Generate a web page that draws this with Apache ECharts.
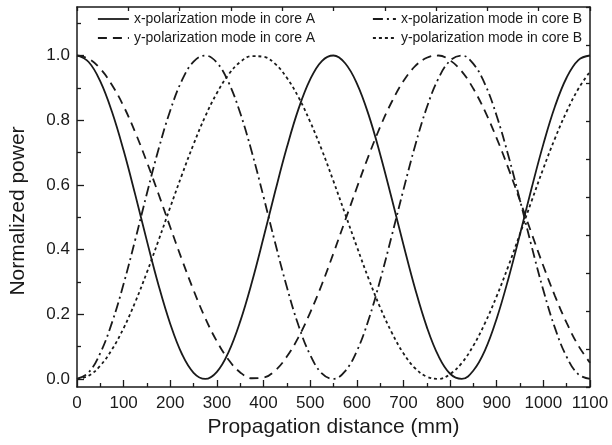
<!DOCTYPE html>
<html>
<head>
<meta charset="utf-8">
<script src="https://cdn.jsdelivr.net/npm/echarts@6/dist/echarts.min.js"></script>
<style>
  html, body { margin: 0; padding: 0; background: #fff; }
  #chart { width: 612px; height: 445px; }
</style>
</head>
<body>
<div id="chart"></div>
<script>
// Propagation distance samples (mm)
const distance = [0, 25, 50, 75, 100, 125, 150, 175, 200, 225, 250, 275, 300, 325, 350, 375, 400, 425, 450, 475, 500, 525, 550, 575, 600, 625, 650, 675, 700, 725, 750, 775, 800, 825, 850, 875, 900, 925, 950, 975, 1000, 1025, 1050, 1075, 1100];

// Normalized power of each mode along the coupler
const xPolCoreA = [1.000, 0.980, 0.920, 0.826, 0.706, 0.569, 0.426, 0.289, 0.170, 0.077, 0.019, 0.000, 0.022, 0.083, 0.178, 0.299, 0.437, 0.580, 0.716, 0.835, 0.926, 0.983, 1.000, 0.976, 0.914, 0.818, 0.695, 0.557, 0.415, 0.279, 0.161, 0.071, 0.016, 0.000, 0.026, 0.089, 0.187, 0.310, 0.448, 0.591, 0.726, 0.843, 0.932, 0.986, 1.000];
const yPolCoreA = [1.000, 0.990, 0.959, 0.909, 0.843, 0.762, 0.670, 0.571, 0.469, 0.369, 0.274, 0.188, 0.116, 0.059, 0.020, 0.002, 0.004, 0.026, 0.069, 0.129, 0.205, 0.292, 0.389, 0.490, 0.591, 0.689, 0.779, 0.857, 0.921, 0.967, 0.993, 1.000, 0.985, 0.951, 0.897, 0.827, 0.744, 0.651, 0.551, 0.449, 0.349, 0.256, 0.173, 0.103, 0.050];
const xPolCoreB = [0.000, 0.020, 0.080, 0.174, 0.294, 0.431, 0.574, 0.711, 0.830, 0.923, 0.981, 1.000, 0.978, 0.917, 0.822, 0.701, 0.563, 0.420, 0.284, 0.165, 0.074, 0.017, 0.000, 0.024, 0.086, 0.182, 0.305, 0.443, 0.585, 0.721, 0.839, 0.929, 0.984, 1.000, 0.974, 0.911, 0.813, 0.690, 0.552, 0.409, 0.274, 0.157, 0.068, 0.014, 0.000];
const yPolCoreB = [0.000, 0.010, 0.041, 0.091, 0.157, 0.238, 0.330, 0.429, 0.531, 0.631, 0.726, 0.812, 0.884, 0.941, 0.980, 0.998, 0.996, 0.974, 0.931, 0.871, 0.795, 0.708, 0.611, 0.510, 0.409, 0.311, 0.221, 0.143, 0.079, 0.033, 0.007, 0.000, 0.015, 0.049, 0.103, 0.173, 0.256, 0.349, 0.449, 0.551, 0.651, 0.744, 0.827, 0.897, 0.950];

const seriesNames = [
  'x-polarization mode in core A',
  'y-polarization mode in core A',
  'x-polarization mode in core B',
  'y-polarization mode in core B'
];

const yMajorTicks = [0.0, 0.2, 0.4, 0.6, 0.8, 1.0];
const yMinorTicks = [0.1, 0.3, 0.5, 0.7, 0.9, 1.1];

const FONT = '"Liberation Sans", Arial, Helvetica, sans-serif';
const INK = '#1a1a1a';
const CLEAR = 'rgba(0,0,0,0)';

function pairs(ys) {
  return distance.map((d, i) => [d, ys[i]]);
}

function lineSeries(name, ys, dash) {
  return {
    name: name,
    type: 'line',
    xAxisIndex: 0,
    yAxisIndex: 0,
    data: pairs(ys),
    symbol: 'none',
    smooth: 0.4,
    lineStyle: { color: INK, width: 1.8, type: dash },
    itemStyle: { color: INK },
    emphasis: { disabled: true },
    animation: false
  };
}

// Legend keys show only the line sample, no marker
function legendBlock(names, left, sampleWidth) {
  return {
    data: names,
    orient: 'vertical',
    left: left,
    top: 12,
    itemWidth: sampleWidth,
    itemHeight: 14,
    itemGap: 5,
    padding: 0,
    selectedMode: false,
    itemStyle: { color: CLEAR, borderColor: CLEAR, borderWidth: 0 },
    lineStyle: { width: 1.8 },
    textStyle: { fontFamily: FONT, fontSize: 14, color: INK }
  };
}

const chart = echarts.init(document.getElementById('chart'), null, { renderer: 'canvas' });

const frameLine = { show: true, onZero: false, lineStyle: { color: INK, width: 1.5 } };

chart.setOption({
  backgroundColor: '#ffffff',
  animation: false,
  textStyle: { fontFamily: FONT, color: INK },
  grid: { left: 73, right: 22, top: 7, bottom: 58, containLabel: false },
  legend: [
    legendBlock([seriesNames[0], seriesNames[1]], 97, 31),
    legendBlock([seriesNames[2], seriesNames[3]], 372, 23)
  ],
  xAxis: [
    {
      type: 'value',
      position: 'bottom',
      min: 0,
      max: 1100,
      interval: 100,
      axisLine: frameLine,
      axisTick: { show: true, inside: true, length: 7, lineStyle: { color: INK, width: 1.3 } },
      minorTick: { show: true, splitNumber: 2, length: 4, lineStyle: { color: INK, width: 1.3 } },
      axisLabel: { fontFamily: FONT, fontSize: 17, color: INK, margin: 8, formatter: v => String(v) },
      splitLine: { show: false },
      name: 'Propagation distance (mm)',
      nameLocation: 'middle',
      nameGap: 30,
      nameTextStyle: { fontFamily: FONT, fontSize: 21, color: INK }
    },
    {
      type: 'value',
      position: 'top',
      min: 0,
      max: 10,
      interval: 1,
      axisLine: frameLine,
      axisTick: { show: true, inside: true, length: 4, lineStyle: { color: INK, width: 1.3 } },
      axisLabel: { show: false },
      splitLine: { show: false }
    }
  ],
  yAxis: [
    {
      type: 'value',
      position: 'left',
      min: -0.025,
      max: 1.15,
      axisLine: frameLine,
      axisTick: { show: true, inside: true, length: 7, customValues: yMajorTicks, lineStyle: { color: INK, width: 1.3 } },
      axisLabel: {
        fontFamily: FONT, fontSize: 17, color: INK, margin: 7,
        customValues: yMajorTicks,
        formatter: v => v.toFixed(1)
      },
      splitLine: { show: false },
      name: 'Normalized power',
      nameLocation: 'middle',
      nameGap: 48,
      nameTextStyle: { fontFamily: FONT, fontSize: 21, color: INK, padding: [0, 28, 0, 0] }
    },
    {
      type: 'value',
      position: 'left',
      min: -0.025,
      max: 1.15,
      axisLine: { show: false },
      axisTick: { show: true, inside: true, length: 4, customValues: yMinorTicks, lineStyle: { color: INK, width: 1.3 } },
      axisLabel: { show: false },
      splitLine: { show: false }
    },
    {
      type: 'value',
      position: 'right',
      min: 0,
      max: 10,
      interval: 1,
      axisLine: frameLine,
      axisTick: { show: true, inside: true, length: 4, lineStyle: { color: INK, width: 1.3 } },
      axisLabel: { show: false },
      splitLine: { show: false }
    }
  ],
  series: [
    lineSeries(seriesNames[0], xPolCoreA, 'solid'),
    lineSeries(seriesNames[1], yPolCoreA, [9, 6]),
    lineSeries(seriesNames[2], xPolCoreB, [10, 4, 2, 4]),
    lineSeries(seriesNames[3], yPolCoreB, [3, 3])
  ]
});
</script>
</body>
</html>
